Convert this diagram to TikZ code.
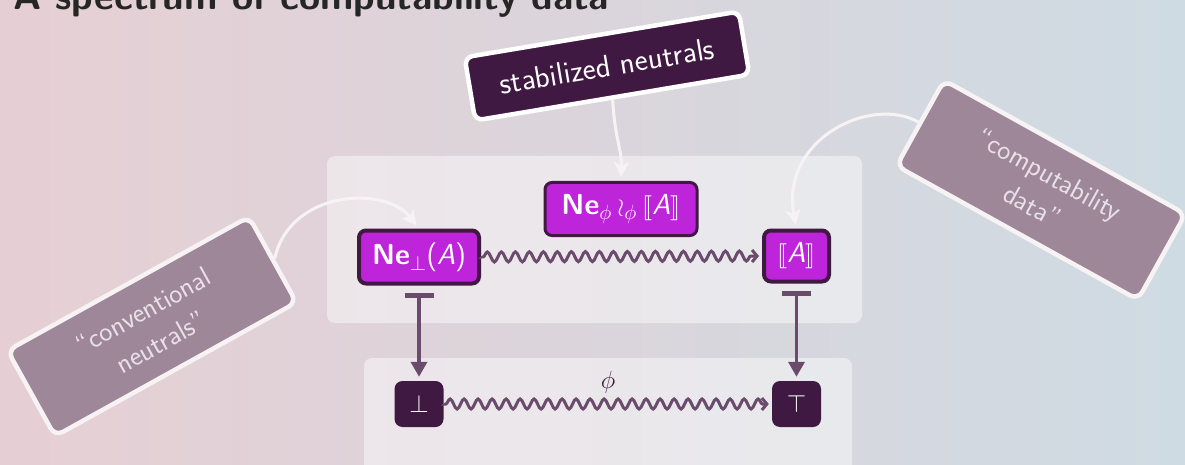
\documentclass[tikz,border=0pt]{standalone}
\usepackage{fontspec}
\usepackage{amsmath}
\usepackage{stmaryrd}
\usetikzlibrary{arrows.meta,decorations.pathmorphing}
\definecolor{bgl}{HTML}{E6CFD4}
\definecolor{bgm}{HTML}{DAD4DB}
\definecolor{bgr}{HTML}{CFDBE3}
\definecolor{magbox}{HTML}{BE24DA}
\definecolor{darkbox}{HTML}{3F1942}
\definecolor{arrowc}{HTML}{6A4B6C}
\definecolor{callfill}{HTML}{9D8799}
\definecolor{calltext}{HTML}{EAE0E8}
\definecolor{callline}{HTML}{F7F3F4}
\begin{document}
\begin{tikzpicture}[x=1pt,y=-1pt,
  panel/.style={fill=white, fill opacity=0.45, rounded corners=8pt},
  magnode/.style={fill=magbox, draw=darkbox, line width=4pt, rounded corners=7pt, text=white, inner sep=0pt, font=\sffamily\fontsize{29}{32}\selectfont},
  darknode/.style={fill=darkbox, rounded corners=8pt, text=white, inner sep=0pt, minimum width=49pt, minimum height=46pt, font=\fontsize{30}{32}\selectfont},
  wave/.style={draw=arrowc, line width=3pt, decorate, decoration={snake, amplitude=5pt, segment length=14pt, pre length=2pt, post length=6pt}, -{Straight Barb[length=5pt,width=12pt]}, shorten <=3pt, shorten >=3pt},
  mapsarrow/.style={draw=arrowc, line width=3.5pt, {Bar[width=29pt,line width=5pt]}-{Triangle[length=15pt,width=16pt]}, shorten <=7pt, shorten >=4pt},
  callout/.style={fill=callfill, draw=callline, line width=4.5pt, rounded corners=9pt, minimum width=276pt, minimum height=98pt, align=center, text=calltext, font=\sffamily\fontsize{28}{36}\selectfont},
  stabbox/.style={fill=darkbox, draw=white, line width=4.5pt, rounded corners=8pt, minimum width=278pt, minimum height=64pt, text=white, font=\sffamily\fontsize{31}{34}\selectfont},
  callarrow/.style={draw=callline, line width=3pt, -{Stealth[length=15pt,width=15pt,inset=4pt]}, shorten >=4pt}
]
\useasboundingbox (0,0) rectangle (1185,465);
\shade[left color=bgl, middle color=bgm, right color=bgr] (0,0) rectangle (1185,465);

\node[anchor=base west, inner sep=0pt, font=\sffamily\bfseries\fontsize{38.5}{42}\selectfont, text=black!85] (title) at (13,10) {A spectrum of computability data};

\fill[panel] (327,156) rectangle (862,323);
\fill[panel] (364,358) rectangle (852,480);

\node[magnode, minimum width=120pt, minimum height=53pt] (ne) at (419,257) {\textbf{Ne}$_\bot$(\textit{A})};
\node[magnode, minimum width=65pt, minimum height=51pt] (sem) at (796.5,256) {$\llbracket$\textit{A}$\rrbracket$};
\node[magnode, line width=3pt, minimum width=152pt, minimum height=53pt] (nephi) at (621,209) {\textbf{Ne}${}_\phi\wr_\phi\llbracket$\textit{A}$\rrbracket$};
\node[darknode] (bot) at (419,404) {$\bot$};
\node[darknode] (top) at (796.5,404) {$\top$};

\draw[wave] (ne.east) -- (sem.west);
\draw[wave] (bot.east) -- (top.west);
\node[text=darkbox, font=\fontsize{25}{26}\selectfont] (phi) at (608,382) {$\phi$};

\draw[mapsarrow] (ne.south) -- (bot.north);
\draw[mapsarrow] (sem.south) -- (top.north);

\node[stabbox, rotate=9.5] (stab) at (607,66) {stabilized neutrals};
\node[callout, rotate=29] (conv) at (152,326.5) {“conventional\\neutrals”};
\node[callout, rotate=-29] (comp) at (1041,190) {“computability\\data”};

\draw[callarrow] (conv.east) .. controls (290,190) and (385,185) .. (ne.north);
\draw[callarrow] (comp.west) .. controls (870,95) and (780,140) .. (sem.north);
\draw[callarrow] (stab.south) .. controls (615,140) and (622,150) .. (nephi.north);
\end{tikzpicture}
\end{document}
